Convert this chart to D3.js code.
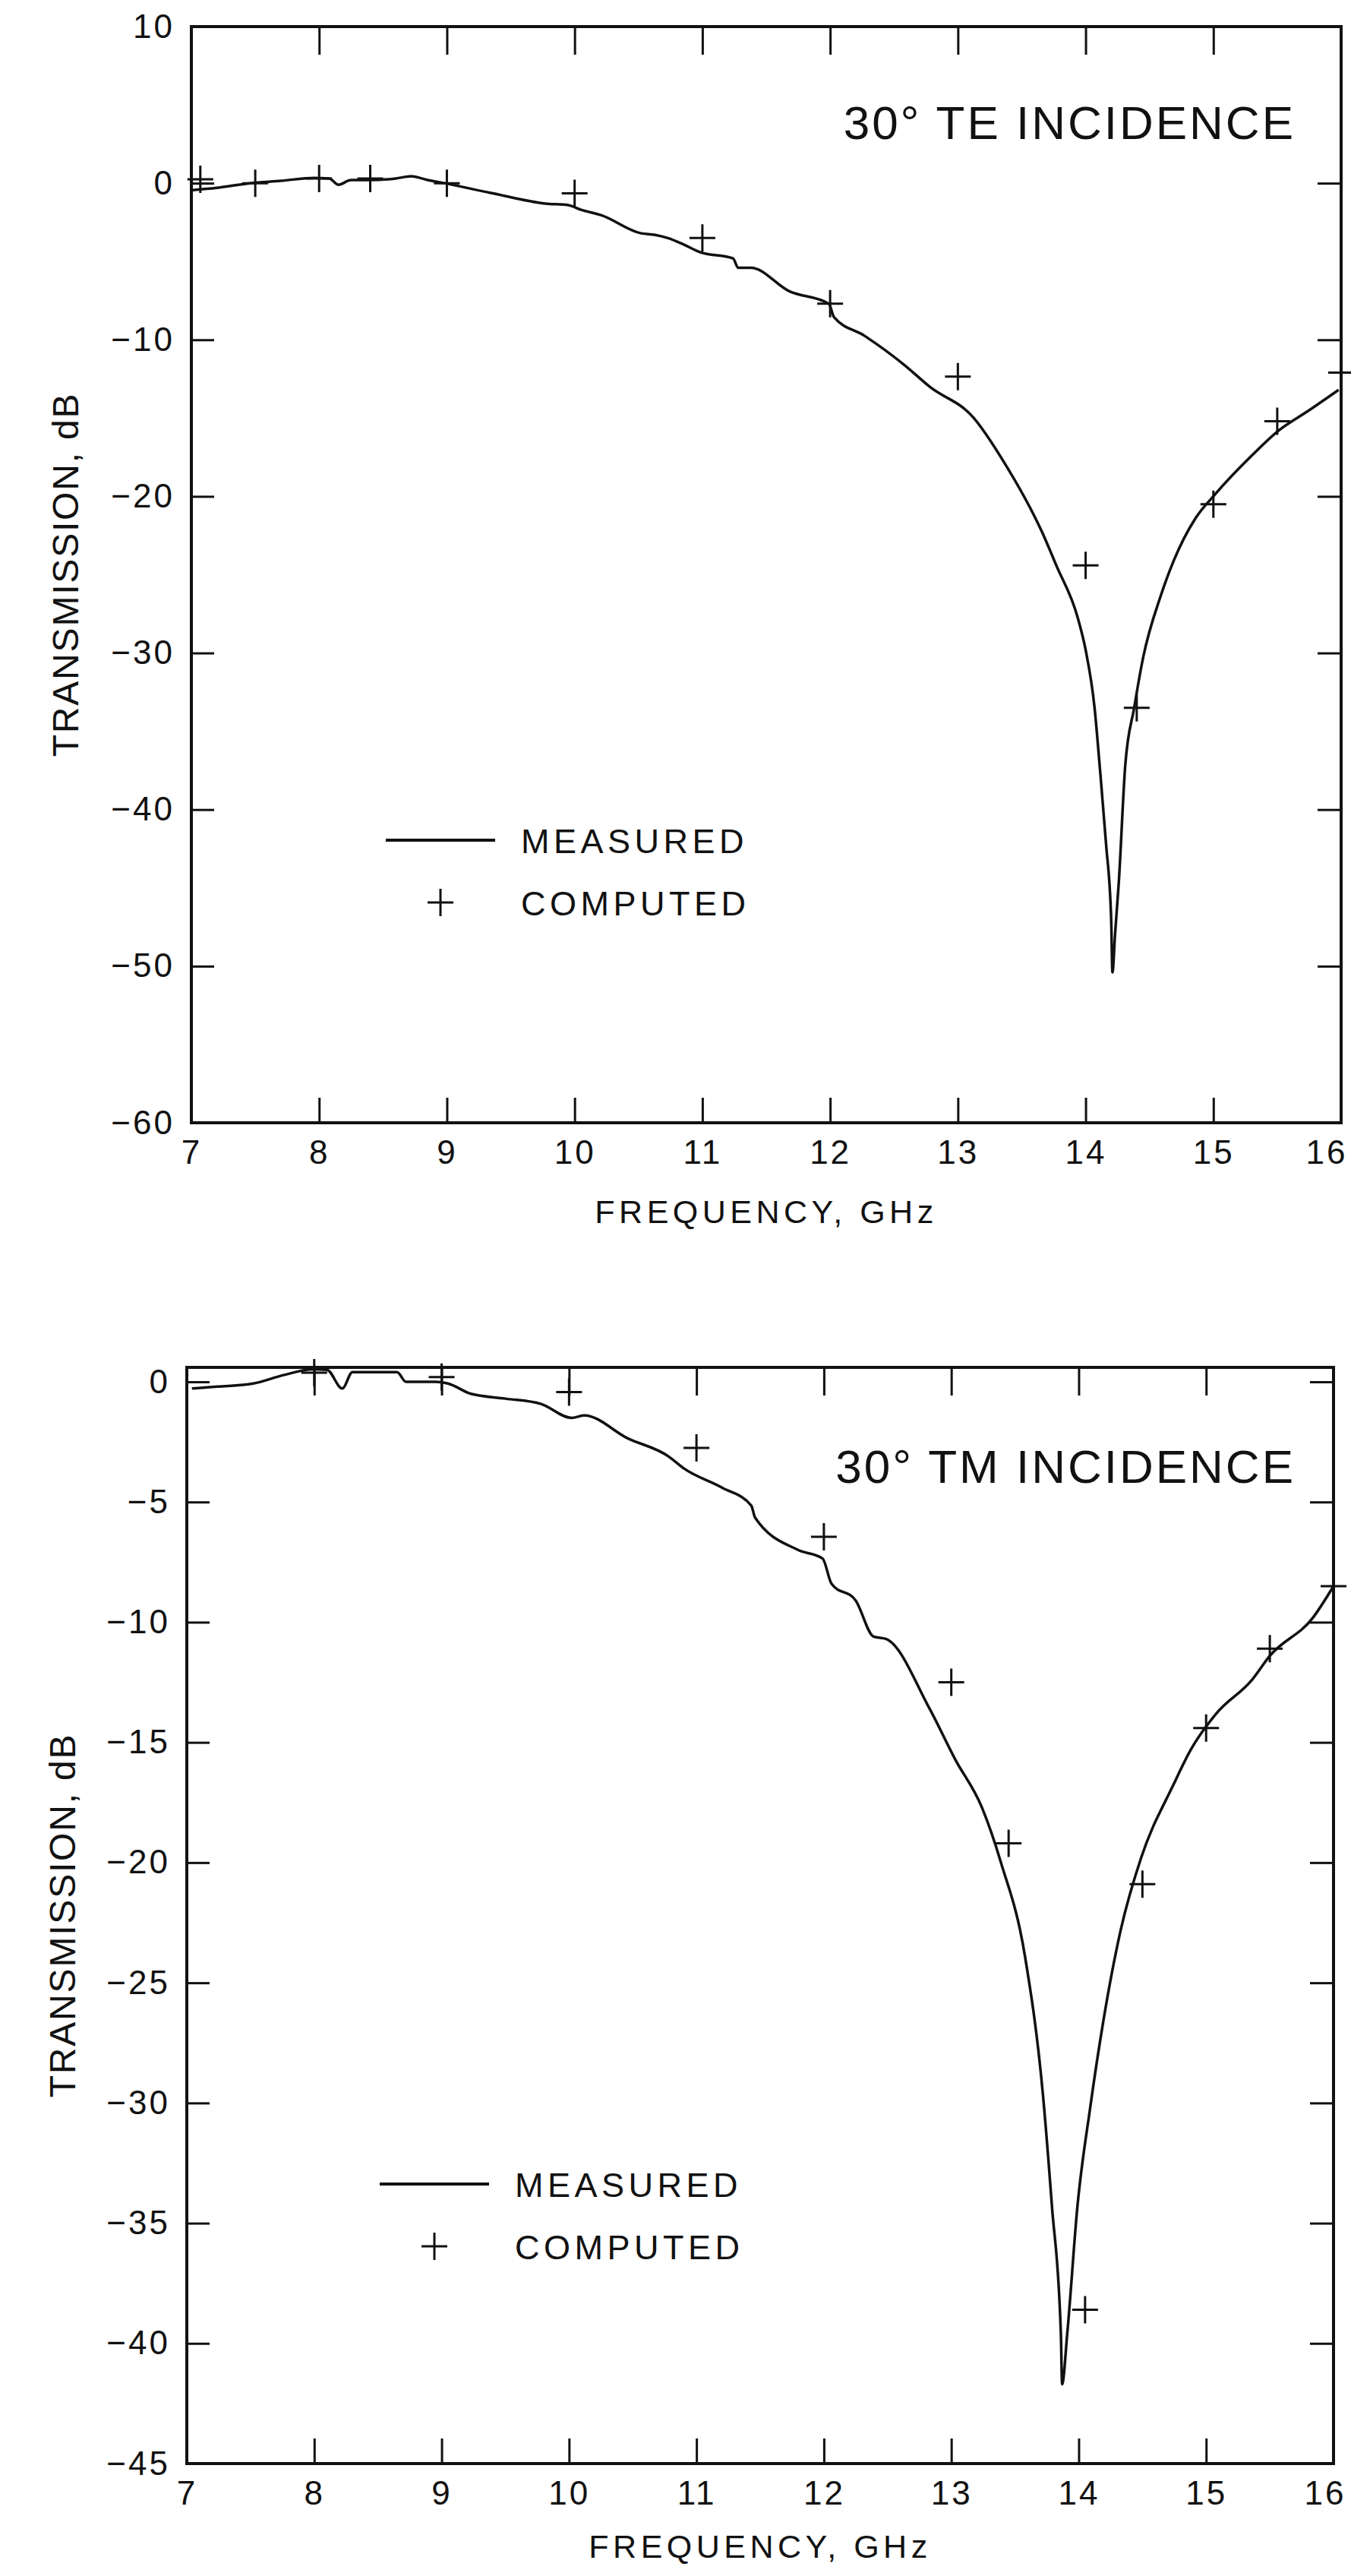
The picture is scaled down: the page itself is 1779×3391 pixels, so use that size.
<!DOCTYPE html>
<html>
<head>
<meta charset="utf-8">
<script src="https://cdn.jsdelivr.net/npm/d3@7"></script>
<style>
  body { margin: 0; background: #fff; }
  svg { display: block; font-family: "Liberation Sans", Arial, Helvetica, sans-serif; }
</style>
</head>
<body>
<svg id="chart"></svg>
<script>
// tick labels
const freqTicks = [7, 8, 9, 10, 11, 12, 13, 14, 15, 16];
const teDbTicks = [10, 0, -10, -20, -30, -40, -50, -60];
const tmDbTicks = [0, -5, -10, -15, -20, -25, -30, -35, -40, -45];

// 30 deg TE, [GHz, dB]
const teMeasured = [
  [7.0, -0.45], [7.2, -0.3], [7.46, 0], [7.7, 0.15], [7.96, 0.34], [8.08, 0.3],
  [8.15, -0.1], [8.25, 0.2], [8.4, 0.2], [8.6, 0.3], [8.72, 0.44], [8.85, 0.2],
  [8.98, 0], [9.36, -0.65], [9.77, -1.3], [9.95, -1.4], [10.05, -1.7], [10.21, -2.05],
  [10.52, -3.2], [10.63, -3.3], [10.73, -3.5], [10.85, -3.9], [10.98, -4.4], [11.24, -4.8],
  [11.28, -5.4], [11.38, -5.4], [11.68, -6.9], [11.99, -7.7], [12.03, -8.55], [12.27, -9.75],
  [12.58, -11.6], [12.78, -13.0], [13.12, -14.95], [13.36, -17.8], [13.66, -22.3], [13.77, -24.4],
  [13.94, -27.8], [14.0, -29.8], [14.07, -33.5], [14.11, -37.2], [14.16, -42.2], [14.2, -47],
  [14.21, -50.4], [14.23, -48], [14.26, -44.6], [14.31, -37.2], [14.38, -33.5], [14.45, -30.3],
  [14.59, -26.3], [14.69, -24.1], [14.86, -21.4], [15.01, -19.9], [15.3, -17.4], [15.51, -15.8],
  [15.75, -14.5], [15.98, -13.2]
];
const teComputed = [
  [7.07, 0.25], [7.5, 0], [8.0, 0.3], [8.4, 0.3], [9.0, 0], [10.0, -0.65], [11.0, -3.5],
  [12.0, -7.7], [13.0, -12.35], [14.0, -24.4], [14.4, -33.5], [15.0, -20.5], [15.5, -15.2], [16.0, -12.1]
];

// 30 deg TM, [GHz, dB]
const tmMeasured = [
  [7.04, -0.28], [7.24, -0.2], [7.52, -0.07], [7.76, 0.28], [7.99, 0.52], [8.1, 0.5],
  [8.22, -0.28], [8.3, 0.4], [8.65, 0.4], [8.72, 0], [8.95, 0], [9.05, -0.07],
  [9.23, -0.5], [9.5, -0.7], [9.78, -0.92], [10.02, -1.5], [10.12, -1.4], [10.46, -2.35],
  [10.78, -3.1], [10.9, -3.6], [11.2, -4.4], [11.43, -5.15], [11.46, -5.65], [11.8, -7.0],
  [11.99, -7.35], [12.06, -8.4], [12.25, -9.1], [12.39, -10.6], [12.49, -10.7], [12.83, -13.6],
  [13.03, -15.7], [13.24, -17.7], [13.39, -20.0], [13.58, -23.95], [13.72, -29.7], [13.79, -34.3],
  [13.86, -39.6], [13.87, -41.7], [13.91, -39.6], [13.99, -34.3], [14.09, -30.2], [14.19, -26.7],
  [14.33, -22.8], [14.49, -19.8], [14.74, -16.8], [14.88, -15.3], [15.08, -13.8], [15.36, -12.4],
  [15.5, -11.4], [15.84, -9.8], [16.0, -8.5]
];
const tmComputed = [
  [8.0, 0.38], [9.0, 0.2], [10.0, -0.43], [11.0, -2.75], [12.0, -6.45], [13.0, -12.5],
  [13.45, -19.2], [14.05, -38.6], [14.5, -20.9], [15.0, -14.4], [15.5, -11.1], [16.0, -8.5]
];

const legendLabels = ["MEASURED", "COMPUTED"];
const xTitle = "FREQUENCY, GHz";
const yTitle = "TRANSMISSION, dB";

const ink = "#111";
const plus = "M-17,0H17M0,-18V18";

const svg = d3.select("#chart")
    .attr("width", 1779)
    .attr("height", 3391)
    .attr("viewBox", [0, 0, 1779, 3391]);

svg.append("rect")
    .attr("width", 1779)
    .attr("height", 3391)
    .attr("fill", "#fff");

TransmissionPanel(svg, teMeasured, teComputed, {
  title: "30° TE INCIDENCE",
  yDomain: [-60, 10],
  yTicks: teDbTicks,
  left: 252, right: 1766, top: 35, bottom: 1478,
  titleX: 1706, titleY: 183,
  legendX: 508, legendY: 1106,
  xTitleY: 1610, yTitleX: 86,
  lastLabelShift: 8
});

TransmissionPanel(svg, tmMeasured, tmComputed, {
  title: "30° TM INCIDENCE",
  yDomain: [-45, 0.6],
  yTicks: tmDbTicks,
  left: 246, right: 1756, top: 1800, bottom: 3243,
  titleX: 1706, titleY: 1952,
  legendX: 500, legendY: 2875,
  xTitleY: 3367, yTitleX: 82,
  lastLabelShift: 16
});

function TransmissionPanel(svg, measured, computed, {
  left, right, top, bottom,
  yDomain, yTicks,
  title, titleX, titleY,
  legendX, legendY,
  xTitleY, yTitleX,
  lastLabelShift = 10,
  tickTop = 37, tickBottom = 33, tickLeft = 30, tickRight = 31
} = {}) {
  const x = d3.scaleLinear([7, 16], [left, right]);
  const y = d3.scaleLinear(yDomain, [bottom, top]);
  const fmt = d3.format("d");
  const g = svg.append("g");

  // ticks all point inward
  g.append("g")
      .attr("transform", `translate(0,${bottom})`)
      .call(d3.axisBottom(x).tickValues(freqTicks).tickSizeInner(-tickBottom).tickSizeOuter(0).tickPadding(23).tickFormat(fmt))
      .call(styleAxis)
      // the last label sits against the frame edge, keep it on the page
      .call(g => g.selectAll(".tick").filter(d => d === 16).select("text")
          .attr("text-anchor", "end")
          .attr("dx", lastLabelShift));

  g.append("g")
      .attr("transform", `translate(0,${top})`)
      .call(d3.axisTop(x).tickValues(freqTicks).tickSizeInner(-tickTop).tickSizeOuter(0).tickFormat(""))
      .call(styleAxis);

  g.append("g")
      .attr("transform", `translate(${left},0)`)
      .call(d3.axisLeft(y).tickValues(yTicks).tickSizeInner(-tickLeft).tickSizeOuter(0).tickPadding(22).tickFormat(fmt))
      .call(styleAxis);

  g.append("g")
      .attr("transform", `translate(${right},0)`)
      .call(d3.axisRight(y).tickValues(yTicks).tickSizeInner(-tickRight).tickSizeOuter(0).tickFormat(""))
      .call(styleAxis);

  g.append("rect")
      .attr("x", left)
      .attr("y", top)
      .attr("width", right - left)
      .attr("height", bottom - top)
      .attr("fill", "none")
      .attr("stroke", ink)
      .attr("stroke-width", 4);

  const line = d3.line()
      .x(d => x(d[0]))
      .y(d => y(d[1]))
      .curve(d3.curveMonotoneX);

  g.append("path")
      .datum(measured)
      .attr("d", line)
      .attr("fill", "none")
      .attr("stroke", ink)
      .attr("stroke-width", 3.5)
      .attr("stroke-linejoin", "round");

  g.append("g")
    .selectAll("path")
    .data(computed)
    .join("path")
      .attr("transform", d => `translate(${x(d[0])},${y(d[1])})`)
      .attr("d", plus)
      .attr("stroke", ink)
      .attr("stroke-width", 3);

  g.append("text")
      .attr("x", titleX)
      .attr("y", titleY)
      .attr("text-anchor", "end")
      .attr("font-size", 62)
      .attr("letter-spacing", 3)
      .attr("fill", ink)
      .text(title);

  // legend
  const lg = g.append("g").attr("transform", `translate(${legendX},${legendY})`);
  lg.append("line")
      .attr("x1", 0).attr("x2", 144)
      .attr("stroke", ink)
      .attr("stroke-width", 4);
  lg.append("path")
      .attr("transform", "translate(72,82)")
      .attr("d", plus)
      .attr("stroke", ink)
      .attr("stroke-width", 3);
  lg.selectAll("text")
    .data(legendLabels)
    .join("text")
      .attr("x", 178)
      .attr("y", (d, i) => 17 + i * 82)
      .attr("font-size", 45)
      .attr("letter-spacing", 5.5)
      .attr("fill", ink)
      .text(d => d);

  g.append("text")
      .attr("x", (left + right) / 2)
      .attr("y", xTitleY)
      .attr("text-anchor", "middle")
      .attr("font-size", 43)
      .attr("letter-spacing", 5.5)
      .attr("fill", ink)
      .text(xTitle);

  g.append("text")
      .attr("transform", `translate(${yTitleX},${(top + bottom) / 2}) rotate(-90)`)
      .attr("text-anchor", "middle")
      .attr("dy", "0.35em")
      .attr("font-size", 48)
      .attr("letter-spacing", 1.8)
      .attr("fill", ink)
      .text(yTitle);
}

function styleAxis(g) {
  g.select(".domain").remove();
  g.attr("font-family", null).attr("font-size", 44);
  g.selectAll(".tick line")
      .attr("stroke", ink)
      .attr("stroke-width", 3);
  g.selectAll(".tick text")
      .attr("fill", ink)
      .attr("letter-spacing", 3);
}
</script>
</body>
</html>
